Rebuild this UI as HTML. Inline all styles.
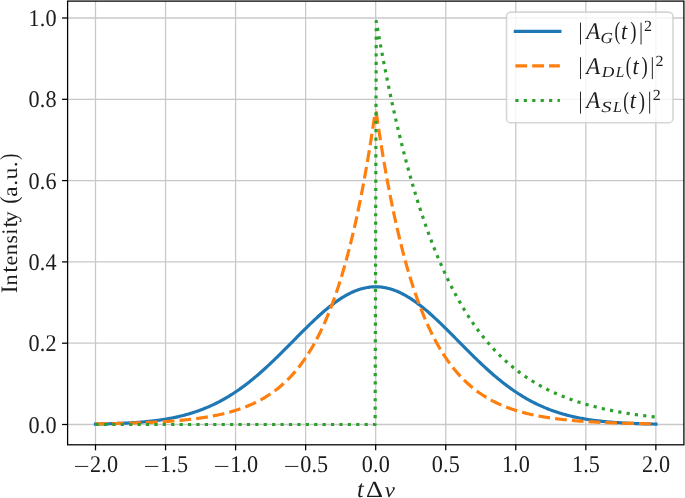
<!DOCTYPE html>
<html><head><meta charset="utf-8"><title>plot</title>
<style>html,body{margin:0;padding:0;background:#fff;overflow:hidden;}svg{display:block;will-change:transform;}text{font-family:"Liberation Serif",serif;fill:#1c1c1c;text-rendering:geometricPrecision;}</style></head><body>
<svg width="685" height="498" viewBox="0 0 685 498">
<rect x="0" y="0" width="685" height="498" fill="#ffffff"/>
<g stroke="#c8c8c8" stroke-width="1.27" fill="none">
<line x1="95.50" y1="1.1" x2="95.50" y2="444.8"/>
<line x1="165.55" y1="1.1" x2="165.55" y2="444.8"/>
<line x1="235.59" y1="1.1" x2="235.59" y2="444.8"/>
<line x1="305.63" y1="1.1" x2="305.63" y2="444.8"/>
<line x1="375.68" y1="1.1" x2="375.68" y2="444.8"/>
<line x1="445.73" y1="1.1" x2="445.73" y2="444.8"/>
<line x1="515.77" y1="1.1" x2="515.77" y2="444.8"/>
<line x1="585.82" y1="1.1" x2="585.82" y2="444.8"/>
<line x1="655.86" y1="1.1" x2="655.86" y2="444.8"/>
<line x1="67.6" y1="424.50" x2="683.9" y2="424.50"/>
<line x1="67.6" y1="343.20" x2="683.9" y2="343.20"/>
<line x1="67.6" y1="261.90" x2="683.9" y2="261.90"/>
<line x1="67.6" y1="180.60" x2="683.9" y2="180.60"/>
<line x1="67.6" y1="99.30" x2="683.9" y2="99.30"/>
<line x1="67.6" y1="18.00" x2="683.9" y2="18.00"/>
</g>
<g fill="none" stroke-width="3.18">
<path d="M95.50,424.07 L96.62,424.05 L97.75,424.03 L98.87,424.01 L99.99,423.98 L101.11,423.96 L102.24,423.94 L103.36,423.91 L104.48,423.88 L105.61,423.85 L106.73,423.82 L107.85,423.79 L108.98,423.76 L110.10,423.73 L111.22,423.69 L112.34,423.66 L113.47,423.62 L114.59,423.58 L115.71,423.54 L116.84,423.50 L117.96,423.46 L119.08,423.41 L120.21,423.36 L121.33,423.32 L122.45,423.26 L123.57,423.21 L124.70,423.16 L125.82,423.10 L126.94,423.04 L128.07,422.98 L129.19,422.92 L130.31,422.85 L131.43,422.78 L132.56,422.71 L133.68,422.64 L134.80,422.57 L135.93,422.49 L137.05,422.41 L138.17,422.32 L139.30,422.24 L140.42,422.15 L141.54,422.05 L142.66,421.96 L143.79,421.86 L144.91,421.75 L146.03,421.65 L147.16,421.54 L148.28,421.42 L149.40,421.31 L150.53,421.18 L151.65,421.06 L152.77,420.93 L153.89,420.80 L155.02,420.66 L156.14,420.52 L157.26,420.37 L158.39,420.22 L159.51,420.06 L160.63,419.90 L161.75,419.74 L162.88,419.57 L164.00,419.39 L165.12,419.21 L166.25,419.02 L167.37,418.83 L168.49,418.63 L169.62,418.43 L170.74,418.22 L171.86,418.00 L172.98,417.78 L174.11,417.55 L175.23,417.32 L176.35,417.08 L177.48,416.83 L178.60,416.58 L179.72,416.31 L180.85,416.05 L181.97,415.77 L183.09,415.49 L184.21,415.20 L185.34,414.90 L186.46,414.59 L187.58,414.28 L188.71,413.96 L189.83,413.63 L190.95,413.29 L192.08,412.95 L193.20,412.59 L194.32,412.23 L195.44,411.86 L196.57,411.48 L197.69,411.09 L198.81,410.69 L199.94,410.28 L201.06,409.86 L202.18,409.43 L203.30,409.00 L204.43,408.55 L205.55,408.10 L206.67,407.63 L207.80,407.15 L208.92,406.67 L210.04,406.17 L211.17,405.67 L212.29,405.15 L213.41,404.62 L214.53,404.08 L215.66,403.54 L216.78,402.98 L217.90,402.41 L219.03,401.83 L220.15,401.23 L221.27,400.63 L222.40,400.02 L223.52,399.39 L224.64,398.76 L225.76,398.11 L226.89,397.45 L228.01,396.78 L229.13,396.10 L230.26,395.40 L231.38,394.70 L232.50,393.98 L233.62,393.26 L234.75,392.52 L235.87,391.77 L236.99,391.01 L238.12,390.24 L239.24,389.45 L240.36,388.66 L241.49,387.85 L242.61,387.03 L243.73,386.20 L244.85,385.36 L245.98,384.51 L247.10,383.65 L248.22,382.78 L249.35,381.90 L250.47,381.00 L251.59,380.10 L252.72,379.18 L253.84,378.26 L254.96,377.32 L256.08,376.38 L257.21,375.42 L258.33,374.46 L259.45,373.48 L260.58,372.50 L261.70,371.51 L262.82,370.50 L263.94,369.49 L265.07,368.47 L266.19,367.45 L267.31,366.41 L268.44,365.37 L269.56,364.32 L270.68,363.26 L271.81,362.19 L272.93,361.12 L274.05,360.04 L275.17,358.96 L276.30,357.87 L277.42,356.77 L278.54,355.67 L279.67,354.57 L280.79,353.45 L281.91,352.34 L283.04,351.22 L284.16,350.10 L285.28,348.97 L286.40,347.84 L287.53,346.71 L288.65,345.58 L289.77,344.44 L290.90,343.31 L292.02,342.17 L293.14,341.03 L294.26,339.90 L295.39,338.76 L296.51,337.62 L297.63,336.49 L298.76,335.36 L299.88,334.22 L301.00,333.10 L302.13,331.97 L303.25,330.85 L304.37,329.73 L305.49,328.62 L306.62,327.51 L307.74,326.41 L308.86,325.31 L309.99,324.22 L311.11,323.13 L312.23,322.06 L313.36,320.99 L314.48,319.93 L315.60,318.87 L316.72,317.83 L317.85,316.80 L318.97,315.77 L320.09,314.76 L321.22,313.76 L322.34,312.77 L323.46,311.79 L324.59,310.83 L325.71,309.88 L326.83,308.94 L327.95,308.01 L329.08,307.10 L330.20,306.20 L331.32,305.32 L332.45,304.46 L333.57,303.61 L334.69,302.78 L335.81,301.96 L336.94,301.17 L338.06,300.39 L339.18,299.62 L340.31,298.88 L341.43,298.16 L342.55,297.45 L343.68,296.77 L344.80,296.10 L345.92,295.46 L347.04,294.83 L348.17,294.23 L349.29,293.65 L350.41,293.09 L351.54,292.55 L352.66,292.04 L353.78,291.55 L354.91,291.08 L356.03,290.63 L357.15,290.21 L358.27,289.81 L359.40,289.44 L360.52,289.09 L361.64,288.76 L362.77,288.46 L363.89,288.18 L365.01,287.93 L366.13,287.70 L367.26,287.49 L368.38,287.32 L369.50,287.16 L370.63,287.04 L371.75,286.93 L372.87,286.86 L374.00,286.81 L375.12,286.78 L376.24,286.78 L377.36,286.81 L378.49,286.86 L379.61,286.93 L380.73,287.04 L381.86,287.16 L382.98,287.32 L384.10,287.49 L385.23,287.70 L386.35,287.93 L387.47,288.18 L388.59,288.46 L389.72,288.76 L390.84,289.09 L391.96,289.44 L393.09,289.81 L394.21,290.21 L395.33,290.63 L396.45,291.08 L397.58,291.55 L398.70,292.04 L399.82,292.55 L400.95,293.09 L402.07,293.65 L403.19,294.23 L404.32,294.83 L405.44,295.46 L406.56,296.10 L407.68,296.77 L408.81,297.45 L409.93,298.16 L411.05,298.88 L412.18,299.62 L413.30,300.39 L414.42,301.17 L415.55,301.96 L416.67,302.78 L417.79,303.61 L418.91,304.46 L420.04,305.32 L421.16,306.20 L422.28,307.10 L423.41,308.01 L424.53,308.94 L425.65,309.88 L426.77,310.83 L427.90,311.79 L429.02,312.77 L430.14,313.76 L431.27,314.76 L432.39,315.77 L433.51,316.80 L434.64,317.83 L435.76,318.87 L436.88,319.93 L438.00,320.99 L439.13,322.06 L440.25,323.13 L441.37,324.22 L442.50,325.31 L443.62,326.41 L444.74,327.51 L445.87,328.62 L446.99,329.73 L448.11,330.85 L449.23,331.97 L450.36,333.10 L451.48,334.22 L452.60,335.36 L453.73,336.49 L454.85,337.62 L455.97,338.76 L457.10,339.90 L458.22,341.03 L459.34,342.17 L460.46,343.31 L461.59,344.44 L462.71,345.58 L463.83,346.71 L464.96,347.84 L466.08,348.97 L467.20,350.10 L468.32,351.22 L469.45,352.34 L470.57,353.45 L471.69,354.57 L472.82,355.67 L473.94,356.77 L475.06,357.87 L476.19,358.96 L477.31,360.04 L478.43,361.12 L479.55,362.19 L480.68,363.26 L481.80,364.32 L482.92,365.37 L484.05,366.41 L485.17,367.45 L486.29,368.47 L487.42,369.49 L488.54,370.50 L489.66,371.51 L490.78,372.50 L491.91,373.48 L493.03,374.46 L494.15,375.42 L495.28,376.38 L496.40,377.32 L497.52,378.26 L498.64,379.18 L499.77,380.10 L500.89,381.00 L502.01,381.90 L503.14,382.78 L504.26,383.65 L505.38,384.51 L506.51,385.36 L507.63,386.20 L508.75,387.03 L509.87,387.85 L511.00,388.66 L512.12,389.45 L513.24,390.24 L514.37,391.01 L515.49,391.77 L516.61,392.52 L517.74,393.26 L518.86,393.98 L519.98,394.70 L521.10,395.40 L522.23,396.10 L523.35,396.78 L524.47,397.45 L525.60,398.11 L526.72,398.76 L527.84,399.39 L528.96,400.02 L530.09,400.63 L531.21,401.23 L532.33,401.83 L533.46,402.41 L534.58,402.98 L535.70,403.54 L536.83,404.08 L537.95,404.62 L539.07,405.15 L540.19,405.67 L541.32,406.17 L542.44,406.67 L543.56,407.15 L544.69,407.63 L545.81,408.10 L546.93,408.55 L548.06,409.00 L549.18,409.43 L550.30,409.86 L551.42,410.28 L552.55,410.69 L553.67,411.09 L554.79,411.48 L555.92,411.86 L557.04,412.23 L558.16,412.59 L559.28,412.95 L560.41,413.29 L561.53,413.63 L562.65,413.96 L563.78,414.28 L564.90,414.59 L566.02,414.90 L567.15,415.20 L568.27,415.49 L569.39,415.77 L570.51,416.05 L571.64,416.31 L572.76,416.58 L573.88,416.83 L575.01,417.08 L576.13,417.32 L577.25,417.55 L578.38,417.78 L579.50,418.00 L580.62,418.22 L581.74,418.43 L582.87,418.63 L583.99,418.83 L585.11,419.02 L586.24,419.21 L587.36,419.39 L588.48,419.57 L589.61,419.74 L590.73,419.90 L591.85,420.06 L592.97,420.22 L594.10,420.37 L595.22,420.52 L596.34,420.66 L597.47,420.80 L598.59,420.93 L599.71,421.06 L600.83,421.18 L601.96,421.31 L603.08,421.42 L604.20,421.54 L605.33,421.65 L606.45,421.75 L607.57,421.86 L608.70,421.96 L609.82,422.05 L610.94,422.15 L612.06,422.24 L613.19,422.32 L614.31,422.41 L615.43,422.49 L616.56,422.57 L617.68,422.64 L618.80,422.71 L619.93,422.78 L621.05,422.85 L622.17,422.92 L623.29,422.98 L624.42,423.04 L625.54,423.10 L626.66,423.16 L627.79,423.21 L628.91,423.26 L630.03,423.32 L631.15,423.36 L632.28,423.41 L633.40,423.46 L634.52,423.50 L635.65,423.54 L636.77,423.58 L637.89,423.62 L639.02,423.66 L640.14,423.69 L641.26,423.73 L642.38,423.76 L643.51,423.79 L644.63,423.82 L645.75,423.85 L646.88,423.88 L648.00,423.91 L649.12,423.94 L650.25,423.96 L651.37,423.98 L652.49,424.01 L653.61,424.03 L654.74,424.05 L655.86,424.07" stroke="#1f77b4" stroke-linecap="square" stroke-linejoin="round"/>
<path d="M95.50,423.87 L96.62,423.85 L97.75,423.84 L98.87,423.82 L99.99,423.80 L101.11,423.78 L102.24,423.77 L103.36,423.75 L104.48,423.73 L105.61,423.71 L106.73,423.69 L107.85,423.67 L108.98,423.65 L110.10,423.63 L111.22,423.61 L112.34,423.58 L113.47,423.56 L114.59,423.54 L115.71,423.51 L116.84,423.49 L117.96,423.46 L119.08,423.43 L120.21,423.41 L121.33,423.38 L122.45,423.35 L123.57,423.32 L124.70,423.29 L125.82,423.26 L126.94,423.23 L128.07,423.20 L129.19,423.17 L130.31,423.13 L131.43,423.10 L132.56,423.06 L133.68,423.03 L134.80,422.99 L135.93,422.95 L137.05,422.91 L138.17,422.87 L139.30,422.83 L140.42,422.79 L141.54,422.75 L142.66,422.70 L143.79,422.66 L144.91,422.61 L146.03,422.56 L147.16,422.51 L148.28,422.46 L149.40,422.41 L150.53,422.36 L151.65,422.31 L152.77,422.25 L153.89,422.19 L155.02,422.14 L156.14,422.08 L157.26,422.02 L158.39,421.95 L159.51,421.89 L160.63,421.82 L161.75,421.75 L162.88,421.69 L164.00,421.61 L165.12,421.54 L166.25,421.47 L167.37,421.39 L168.49,421.31 L169.62,421.23 L170.74,421.15 L171.86,421.07 L172.98,420.98 L174.11,420.89 L175.23,420.80 L176.35,420.71 L177.48,420.61 L178.60,420.51 L179.72,420.41 L180.85,420.31 L181.97,420.20 L183.09,420.09 L184.21,419.98 L185.34,419.87 L186.46,419.75 L187.58,419.63 L188.71,419.51 L189.83,419.38 L190.95,419.25 L192.08,419.12 L193.20,418.99 L194.32,418.85 L195.44,418.70 L196.57,418.56 L197.69,418.41 L198.81,418.25 L199.94,418.10 L201.06,417.94 L202.18,417.77 L203.30,417.60 L204.43,417.43 L205.55,417.25 L206.67,417.06 L207.80,416.88 L208.92,416.69 L210.04,416.49 L211.17,416.29 L212.29,416.08 L213.41,415.87 L214.53,415.65 L215.66,415.43 L216.78,415.20 L217.90,414.96 L219.03,414.72 L220.15,414.47 L221.27,414.22 L222.40,413.96 L223.52,413.70 L224.64,413.42 L225.76,413.14 L226.89,412.86 L228.01,412.56 L229.13,412.26 L230.26,411.96 L231.38,411.64 L232.50,411.31 L233.62,410.98 L234.75,410.64 L235.87,410.29 L236.99,409.93 L238.12,409.57 L239.24,409.19 L240.36,408.80 L241.49,408.41 L242.61,408.00 L243.73,407.58 L244.85,407.16 L245.98,406.72 L247.10,406.27 L248.22,405.81 L249.35,405.34 L250.47,404.86 L251.59,404.36 L252.72,403.85 L253.84,403.33 L254.96,402.80 L256.08,402.25 L257.21,401.69 L258.33,401.12 L259.45,400.53 L260.58,399.92 L261.70,399.30 L262.82,398.67 L263.94,398.01 L265.07,397.35 L266.19,396.66 L267.31,395.96 L268.44,395.24 L269.56,394.50 L270.68,393.74 L271.81,392.97 L272.93,392.17 L274.05,391.36 L275.17,390.52 L276.30,389.67 L277.42,388.79 L278.54,387.89 L279.67,386.96 L280.79,386.02 L281.91,385.04 L283.04,384.05 L284.16,383.03 L285.28,381.98 L286.40,380.91 L287.53,379.81 L288.65,378.68 L289.77,377.53 L290.90,376.34 L292.02,375.13 L293.14,373.88 L294.26,372.61 L295.39,371.30 L296.51,369.96 L297.63,368.58 L298.76,367.17 L299.88,365.72 L301.00,364.24 L302.13,362.72 L303.25,361.16 L304.37,359.57 L305.49,357.93 L306.62,356.25 L307.74,354.53 L308.86,352.76 L309.99,350.95 L311.11,349.10 L312.23,347.20 L313.36,345.25 L314.48,343.25 L315.60,341.20 L316.72,339.10 L317.85,336.94 L318.97,334.74 L320.09,332.47 L321.22,330.15 L322.34,327.77 L323.46,325.33 L324.59,322.83 L325.71,320.26 L326.83,317.64 L327.95,314.94 L329.08,312.18 L330.20,309.34 L331.32,306.44 L332.45,303.46 L333.57,300.41 L334.69,297.28 L335.81,294.07 L336.94,290.78 L338.06,287.41 L339.18,283.95 L340.31,280.40 L341.43,276.77 L342.55,273.04 L343.68,269.22 L344.80,265.31 L345.92,261.29 L347.04,257.17 L348.17,252.95 L349.29,248.63 L350.41,244.19 L351.54,239.64 L352.66,234.98 L353.78,230.20 L354.91,225.30 L356.03,220.28 L357.15,215.12 L358.27,209.84 L359.40,204.43 L360.52,198.88 L361.64,193.19 L362.77,187.35 L363.89,181.37 L365.01,175.24 L366.13,168.95 L367.26,162.51 L368.38,155.90 L369.50,149.12 L370.63,142.18 L371.75,135.06 L372.87,127.76 L374.00,120.27 L375.12,112.60 L376.24,112.60 L377.36,120.27 L378.49,127.76 L379.61,135.06 L380.73,142.18 L381.86,149.12 L382.98,155.90 L384.10,162.51 L385.23,168.95 L386.35,175.24 L387.47,181.37 L388.59,187.35 L389.72,193.19 L390.84,198.88 L391.96,204.43 L393.09,209.84 L394.21,215.12 L395.33,220.28 L396.45,225.30 L397.58,230.20 L398.70,234.98 L399.82,239.64 L400.95,244.19 L402.07,248.63 L403.19,252.95 L404.32,257.17 L405.44,261.29 L406.56,265.31 L407.68,269.22 L408.81,273.04 L409.93,276.77 L411.05,280.40 L412.18,283.95 L413.30,287.41 L414.42,290.78 L415.55,294.07 L416.67,297.28 L417.79,300.41 L418.91,303.46 L420.04,306.44 L421.16,309.34 L422.28,312.18 L423.41,314.94 L424.53,317.64 L425.65,320.26 L426.77,322.83 L427.90,325.33 L429.02,327.77 L430.14,330.15 L431.27,332.47 L432.39,334.74 L433.51,336.94 L434.64,339.10 L435.76,341.20 L436.88,343.25 L438.00,345.25 L439.13,347.20 L440.25,349.10 L441.37,350.95 L442.50,352.76 L443.62,354.53 L444.74,356.25 L445.87,357.93 L446.99,359.57 L448.11,361.16 L449.23,362.72 L450.36,364.24 L451.48,365.72 L452.60,367.17 L453.73,368.58 L454.85,369.96 L455.97,371.30 L457.10,372.61 L458.22,373.88 L459.34,375.13 L460.46,376.34 L461.59,377.53 L462.71,378.68 L463.83,379.81 L464.96,380.91 L466.08,381.98 L467.20,383.03 L468.32,384.05 L469.45,385.04 L470.57,386.02 L471.69,386.96 L472.82,387.89 L473.94,388.79 L475.06,389.67 L476.19,390.52 L477.31,391.36 L478.43,392.17 L479.55,392.97 L480.68,393.74 L481.80,394.50 L482.92,395.24 L484.05,395.96 L485.17,396.66 L486.29,397.35 L487.42,398.01 L488.54,398.67 L489.66,399.30 L490.78,399.92 L491.91,400.53 L493.03,401.12 L494.15,401.69 L495.28,402.25 L496.40,402.80 L497.52,403.33 L498.64,403.85 L499.77,404.36 L500.89,404.86 L502.01,405.34 L503.14,405.81 L504.26,406.27 L505.38,406.72 L506.51,407.16 L507.63,407.58 L508.75,408.00 L509.87,408.41 L511.00,408.80 L512.12,409.19 L513.24,409.57 L514.37,409.93 L515.49,410.29 L516.61,410.64 L517.74,410.98 L518.86,411.31 L519.98,411.64 L521.10,411.96 L522.23,412.26 L523.35,412.56 L524.47,412.86 L525.60,413.14 L526.72,413.42 L527.84,413.70 L528.96,413.96 L530.09,414.22 L531.21,414.47 L532.33,414.72 L533.46,414.96 L534.58,415.20 L535.70,415.43 L536.83,415.65 L537.95,415.87 L539.07,416.08 L540.19,416.29 L541.32,416.49 L542.44,416.69 L543.56,416.88 L544.69,417.06 L545.81,417.25 L546.93,417.43 L548.06,417.60 L549.18,417.77 L550.30,417.94 L551.42,418.10 L552.55,418.25 L553.67,418.41 L554.79,418.56 L555.92,418.70 L557.04,418.85 L558.16,418.99 L559.28,419.12 L560.41,419.25 L561.53,419.38 L562.65,419.51 L563.78,419.63 L564.90,419.75 L566.02,419.87 L567.15,419.98 L568.27,420.09 L569.39,420.20 L570.51,420.31 L571.64,420.41 L572.76,420.51 L573.88,420.61 L575.01,420.71 L576.13,420.80 L577.25,420.89 L578.38,420.98 L579.50,421.07 L580.62,421.15 L581.74,421.23 L582.87,421.31 L583.99,421.39 L585.11,421.47 L586.24,421.54 L587.36,421.61 L588.48,421.69 L589.61,421.75 L590.73,421.82 L591.85,421.89 L592.97,421.95 L594.10,422.02 L595.22,422.08 L596.34,422.14 L597.47,422.19 L598.59,422.25 L599.71,422.31 L600.83,422.36 L601.96,422.41 L603.08,422.46 L604.20,422.51 L605.33,422.56 L606.45,422.61 L607.57,422.66 L608.70,422.70 L609.82,422.75 L610.94,422.79 L612.06,422.83 L613.19,422.87 L614.31,422.91 L615.43,422.95 L616.56,422.99 L617.68,423.03 L618.80,423.06 L619.93,423.10 L621.05,423.13 L622.17,423.17 L623.29,423.20 L624.42,423.23 L625.54,423.26 L626.66,423.29 L627.79,423.32 L628.91,423.35 L630.03,423.38 L631.15,423.41 L632.28,423.43 L633.40,423.46 L634.52,423.49 L635.65,423.51 L636.77,423.54 L637.89,423.56 L639.02,423.58 L640.14,423.61 L641.26,423.63 L642.38,423.65 L643.51,423.67 L644.63,423.69 L645.75,423.71 L646.88,423.73 L648.00,423.75 L649.12,423.77 L650.25,423.78 L651.37,423.80 L652.49,423.82 L653.61,423.84 L654.74,423.85 L655.86,423.87" stroke="#ff7f0e" stroke-linecap="butt" stroke-linejoin="round" stroke-dasharray="11.742 5.078"/>
<path d="M95.50,424.50 L96.62,424.50 L97.75,424.50 L98.87,424.50 L99.99,424.50 L101.11,424.50 L102.24,424.50 L103.36,424.50 L104.48,424.50 L105.61,424.50 L106.73,424.50 L107.85,424.50 L108.98,424.50 L110.10,424.50 L111.22,424.50 L112.34,424.50 L113.47,424.50 L114.59,424.50 L115.71,424.50 L116.84,424.50 L117.96,424.50 L119.08,424.50 L120.21,424.50 L121.33,424.50 L122.45,424.50 L123.57,424.50 L124.70,424.50 L125.82,424.50 L126.94,424.50 L128.07,424.50 L129.19,424.50 L130.31,424.50 L131.43,424.50 L132.56,424.50 L133.68,424.50 L134.80,424.50 L135.93,424.50 L137.05,424.50 L138.17,424.50 L139.30,424.50 L140.42,424.50 L141.54,424.50 L142.66,424.50 L143.79,424.50 L144.91,424.50 L146.03,424.50 L147.16,424.50 L148.28,424.50 L149.40,424.50 L150.53,424.50 L151.65,424.50 L152.77,424.50 L153.89,424.50 L155.02,424.50 L156.14,424.50 L157.26,424.50 L158.39,424.50 L159.51,424.50 L160.63,424.50 L161.75,424.50 L162.88,424.50 L164.00,424.50 L165.12,424.50 L166.25,424.50 L167.37,424.50 L168.49,424.50 L169.62,424.50 L170.74,424.50 L171.86,424.50 L172.98,424.50 L174.11,424.50 L175.23,424.50 L176.35,424.50 L177.48,424.50 L178.60,424.50 L179.72,424.50 L180.85,424.50 L181.97,424.50 L183.09,424.50 L184.21,424.50 L185.34,424.50 L186.46,424.50 L187.58,424.50 L188.71,424.50 L189.83,424.50 L190.95,424.50 L192.08,424.50 L193.20,424.50 L194.32,424.50 L195.44,424.50 L196.57,424.50 L197.69,424.50 L198.81,424.50 L199.94,424.50 L201.06,424.50 L202.18,424.50 L203.30,424.50 L204.43,424.50 L205.55,424.50 L206.67,424.50 L207.80,424.50 L208.92,424.50 L210.04,424.50 L211.17,424.50 L212.29,424.50 L213.41,424.50 L214.53,424.50 L215.66,424.50 L216.78,424.50 L217.90,424.50 L219.03,424.50 L220.15,424.50 L221.27,424.50 L222.40,424.50 L223.52,424.50 L224.64,424.50 L225.76,424.50 L226.89,424.50 L228.01,424.50 L229.13,424.50 L230.26,424.50 L231.38,424.50 L232.50,424.50 L233.62,424.50 L234.75,424.50 L235.87,424.50 L236.99,424.50 L238.12,424.50 L239.24,424.50 L240.36,424.50 L241.49,424.50 L242.61,424.50 L243.73,424.50 L244.85,424.50 L245.98,424.50 L247.10,424.50 L248.22,424.50 L249.35,424.50 L250.47,424.50 L251.59,424.50 L252.72,424.50 L253.84,424.50 L254.96,424.50 L256.08,424.50 L257.21,424.50 L258.33,424.50 L259.45,424.50 L260.58,424.50 L261.70,424.50 L262.82,424.50 L263.94,424.50 L265.07,424.50 L266.19,424.50 L267.31,424.50 L268.44,424.50 L269.56,424.50 L270.68,424.50 L271.81,424.50 L272.93,424.50 L274.05,424.50 L275.17,424.50 L276.30,424.50 L277.42,424.50 L278.54,424.50 L279.67,424.50 L280.79,424.50 L281.91,424.50 L283.04,424.50 L284.16,424.50 L285.28,424.50 L286.40,424.50 L287.53,424.50 L288.65,424.50 L289.77,424.50 L290.90,424.50 L292.02,424.50 L293.14,424.50 L294.26,424.50 L295.39,424.50 L296.51,424.50 L297.63,424.50 L298.76,424.50 L299.88,424.50 L301.00,424.50 L302.13,424.50 L303.25,424.50 L304.37,424.50 L305.49,424.50 L306.62,424.50 L307.74,424.50 L308.86,424.50 L309.99,424.50 L311.11,424.50 L312.23,424.50 L313.36,424.50 L314.48,424.50 L315.60,424.50 L316.72,424.50 L317.85,424.50 L318.97,424.50 L320.09,424.50 L321.22,424.50 L322.34,424.50 L323.46,424.50 L324.59,424.50 L325.71,424.50 L326.83,424.50 L327.95,424.50 L329.08,424.50 L330.20,424.50 L331.32,424.50 L332.45,424.50 L333.57,424.50 L334.69,424.50 L335.81,424.50 L336.94,424.50 L338.06,424.50 L339.18,424.50 L340.31,424.50 L341.43,424.50 L342.55,424.50 L343.68,424.50 L344.80,424.50 L345.92,424.50 L347.04,424.50 L348.17,424.50 L349.29,424.50 L350.41,424.50 L351.54,424.50 L352.66,424.50 L353.78,424.50 L354.91,424.50 L356.03,424.50 L357.15,424.50 L358.27,424.50 L359.40,424.50 L360.52,424.50 L361.64,424.50 L362.77,424.50 L363.89,424.50 L365.01,424.50 L366.13,424.50 L367.26,424.50 L368.38,424.50 L369.50,424.50 L370.63,424.50 L371.75,424.50 L372.87,424.50 L374.00,424.50 L375.12,424.50 L376.24,21.25 L377.36,27.66 L378.49,33.97 L379.61,40.18 L380.73,46.29 L381.86,52.31 L382.98,58.23 L384.10,64.05 L385.23,69.79 L386.35,75.43 L387.47,80.98 L388.59,86.44 L389.72,91.82 L390.84,97.11 L391.96,102.32 L393.09,107.44 L394.21,112.48 L395.33,117.45 L396.45,122.33 L397.58,127.14 L398.70,131.86 L399.82,136.52 L400.95,141.10 L402.07,145.61 L403.19,150.04 L404.32,154.41 L405.44,158.70 L406.56,162.93 L407.68,167.09 L408.81,171.18 L409.93,175.21 L411.05,179.18 L412.18,183.08 L413.30,186.92 L414.42,190.70 L415.55,194.42 L416.67,198.08 L417.79,201.68 L418.91,205.22 L420.04,208.71 L421.16,212.14 L422.28,215.52 L423.41,218.84 L424.53,222.11 L425.65,225.33 L426.77,228.50 L427.90,231.62 L429.02,234.68 L430.14,237.70 L431.27,240.67 L432.39,243.60 L433.51,246.47 L434.64,249.30 L435.76,252.09 L436.88,254.83 L438.00,257.53 L439.13,260.19 L440.25,262.80 L441.37,265.37 L442.50,267.90 L443.62,270.39 L444.74,272.84 L445.87,275.26 L446.99,277.63 L448.11,279.97 L449.23,282.26 L450.36,284.53 L451.48,286.75 L452.60,288.94 L453.73,291.10 L454.85,293.22 L455.97,295.31 L457.10,297.36 L458.22,299.39 L459.34,301.38 L460.46,303.33 L461.59,305.26 L462.71,307.16 L463.83,309.02 L464.96,310.86 L466.08,312.67 L467.20,314.45 L468.32,316.20 L469.45,317.92 L470.57,319.61 L471.69,321.28 L472.82,322.92 L473.94,324.54 L475.06,326.13 L476.19,327.69 L477.31,329.23 L478.43,330.75 L479.55,332.24 L480.68,333.71 L481.80,335.15 L482.92,336.57 L484.05,337.97 L485.17,339.35 L486.29,340.70 L487.42,342.03 L488.54,343.34 L489.66,344.64 L490.78,345.91 L491.91,347.16 L493.03,348.39 L494.15,349.60 L495.28,350.79 L496.40,351.96 L497.52,353.11 L498.64,354.25 L499.77,355.37 L500.89,356.47 L502.01,357.55 L503.14,358.61 L504.26,359.66 L505.38,360.69 L506.51,361.71 L507.63,362.71 L508.75,363.69 L509.87,364.66 L511.00,365.61 L512.12,366.54 L513.24,367.47 L514.37,368.37 L515.49,369.27 L516.61,370.14 L517.74,371.01 L518.86,371.86 L519.98,372.70 L521.10,373.52 L522.23,374.33 L523.35,375.13 L524.47,375.91 L525.60,376.69 L526.72,377.45 L527.84,378.20 L528.96,378.93 L530.09,379.66 L531.21,380.37 L532.33,381.07 L533.46,381.76 L534.58,382.44 L535.70,383.11 L536.83,383.77 L537.95,384.42 L539.07,385.05 L540.19,385.68 L541.32,386.30 L542.44,386.91 L543.56,387.50 L544.69,388.09 L545.81,388.67 L546.93,389.24 L548.06,389.80 L549.18,390.35 L550.30,390.90 L551.42,391.43 L552.55,391.96 L553.67,392.48 L554.79,392.98 L555.92,393.49 L557.04,393.98 L558.16,394.46 L559.28,394.94 L560.41,395.41 L561.53,395.88 L562.65,396.33 L563.78,396.78 L564.90,397.22 L566.02,397.65 L567.15,398.08 L568.27,398.50 L569.39,398.91 L570.51,399.32 L571.64,399.72 L572.76,400.12 L573.88,400.50 L575.01,400.88 L576.13,401.26 L577.25,401.63 L578.38,401.99 L579.50,402.35 L580.62,402.70 L581.74,403.05 L582.87,403.39 L583.99,403.73 L585.11,404.06 L586.24,404.38 L587.36,404.70 L588.48,405.02 L589.61,405.33 L590.73,405.63 L591.85,405.93 L592.97,406.23 L594.10,406.52 L595.22,406.80 L596.34,407.09 L597.47,407.36 L598.59,407.64 L599.71,407.90 L600.83,408.17 L601.96,408.43 L603.08,408.68 L604.20,408.93 L605.33,409.18 L606.45,409.43 L607.57,409.67 L608.70,409.90 L609.82,410.13 L610.94,410.36 L612.06,410.59 L613.19,410.81 L614.31,411.03 L615.43,411.24 L616.56,411.45 L617.68,411.66 L618.80,411.86 L619.93,412.06 L621.05,412.26 L622.17,412.46 L623.29,412.65 L624.42,412.84 L625.54,413.02 L626.66,413.20 L627.79,413.38 L628.91,413.56 L630.03,413.73 L631.15,413.91 L632.28,414.07 L633.40,414.24 L634.52,414.40 L635.65,414.56 L636.77,414.72 L637.89,414.88 L639.02,415.03 L640.14,415.18 L641.26,415.33 L642.38,415.48 L643.51,415.62 L644.63,415.76 L645.75,415.90 L646.88,416.04 L648.00,416.17 L649.12,416.30 L650.25,416.43 L651.37,416.56 L652.49,416.69 L653.61,416.81 L654.74,416.93 L655.86,417.05" stroke="#2ca02c" stroke-linecap="butt" stroke-linejoin="round" stroke-dasharray="3.174 5.236"/>
</g>
<g stroke="#000" stroke-width="1.27" fill="none">
<line x1="95.50" y1="444.8" x2="95.50" y2="450.35"/>
<line x1="165.55" y1="444.8" x2="165.55" y2="450.35"/>
<line x1="235.59" y1="444.8" x2="235.59" y2="450.35"/>
<line x1="305.63" y1="444.8" x2="305.63" y2="450.35"/>
<line x1="375.68" y1="444.8" x2="375.68" y2="450.35"/>
<line x1="445.73" y1="444.8" x2="445.73" y2="450.35"/>
<line x1="515.77" y1="444.8" x2="515.77" y2="450.35"/>
<line x1="585.82" y1="444.8" x2="585.82" y2="450.35"/>
<line x1="655.86" y1="444.8" x2="655.86" y2="450.35"/>
<line x1="62.05" y1="424.50" x2="67.6" y2="424.50"/>
<line x1="62.05" y1="343.20" x2="67.6" y2="343.20"/>
<line x1="62.05" y1="261.90" x2="67.6" y2="261.90"/>
<line x1="62.05" y1="180.60" x2="67.6" y2="180.60"/>
<line x1="62.05" y1="99.30" x2="67.6" y2="99.30"/>
<line x1="62.05" y1="18.00" x2="67.6" y2="18.00"/>
</g>
<rect x="67.6" y="1.1" width="616.30" height="443.70" fill="none" stroke="#000" stroke-width="1.27"/>
<line x1="75.00" y1="466.45" x2="88.23" y2="466.45" stroke="#1c1c1c" stroke-width="0.95"/>
<g transform="translate(0,472.00) scale(1,1.08)"><text x="90.07 101.29 106.98" y="0" font-size="22.2">2.0</text></g>
<line x1="145.04" y1="466.45" x2="158.27" y2="466.45" stroke="#1c1c1c" stroke-width="0.95"/>
<g transform="translate(0,472.00) scale(1,1.08)"><text x="160.11 171.34 177.02" y="0" font-size="22.2">1.5</text></g>
<line x1="215.09" y1="466.45" x2="228.32" y2="466.45" stroke="#1c1c1c" stroke-width="0.95"/>
<g transform="translate(0,472.00) scale(1,1.08)"><text x="230.16 241.38 247.07" y="0" font-size="22.2">1.0</text></g>
<line x1="285.13" y1="466.45" x2="298.36" y2="466.45" stroke="#1c1c1c" stroke-width="0.95"/>
<g transform="translate(0,472.00) scale(1,1.08)"><text x="300.20 311.43 317.11" y="0" font-size="22.2">0.5</text></g>
<g transform="translate(0,472.00) scale(1,1.08)"><text x="361.79 373.02 378.70" y="0" font-size="22.2">0.0</text></g>
<g transform="translate(0,472.00) scale(1,1.08)"><text x="431.84 443.06 448.74" y="0" font-size="22.2">0.5</text></g>
<g transform="translate(0,472.00) scale(1,1.08)"><text x="501.88 513.11 518.79" y="0" font-size="22.2">1.0</text></g>
<g transform="translate(0,472.00) scale(1,1.08)"><text x="571.93 583.15 588.83" y="0" font-size="22.2">1.5</text></g>
<g transform="translate(0,472.00) scale(1,1.08)"><text x="641.97 653.20 658.88" y="0" font-size="22.2">2.0</text></g>
<g transform="translate(0,432.60) scale(1,1.08)"><text x="28.52 39.75 45.43" y="0" font-size="22.2">0.0</text></g>
<g transform="translate(0,351.30) scale(1,1.08)"><text x="28.52 39.75 45.43" y="0" font-size="22.2">0.2</text></g>
<g transform="translate(0,270.00) scale(1,1.08)"><text x="28.52 39.75 45.43" y="0" font-size="22.2">0.4</text></g>
<g transform="translate(0,188.70) scale(1,1.08)"><text x="28.52 39.75 45.43" y="0" font-size="22.2">0.6</text></g>
<g transform="translate(0,107.40) scale(1,1.08)"><text x="28.52 39.75 45.43" y="0" font-size="22.2">0.8</text></g>
<g transform="translate(0,26.10) scale(1,1.08)"><text x="28.52 39.75 45.43" y="0" font-size="22.2">1.0</text></g>
<text transform="translate(16.90,292.99) rotate(-90) scale(0.9228,1)" font-size="23.6">I</text>
<text transform="translate(16.90,285.41) rotate(-90) scale(1.0825,1)" font-size="20.6">n</text>
<text transform="translate(16.90,272.84) rotate(-90) scale(1.0170,1)" font-size="24.0">t</text>
<text transform="translate(16.90,265.57) rotate(-90) scale(1.0755,1)" font-size="20.6">e</text>
<text transform="translate(16.90,255.32) rotate(-90) scale(1.0930,1)" font-size="20.6">n</text>
<text transform="translate(16.90,243.58) rotate(-90) scale(1.0424,1)" font-size="20.6">s</text>
<text transform="translate(16.90,234.53) rotate(-90) scale(0.9282,1)" font-size="22.2">i</text>
<text transform="translate(16.90,227.53) rotate(-90) scale(1.0011,1)" font-size="24.0">t</text>
<text transform="translate(16.90,222.47) rotate(-90) scale(1.0835,1)" font-size="20.6">y</text>
<text transform="translate(17.10,203.86) rotate(-90) scale(0.8900,1)" font-size="24.5">(</text>
<text transform="translate(16.90,196.63) rotate(-90) scale(1.1429,1)" font-size="20.6">a</text>
<text transform="translate(16.90,185.66) rotate(-90) scale(1.0674,1)" font-size="22.2">.</text>
<text transform="translate(16.90,179.51) rotate(-90) scale(1.1471,1)" font-size="20.6">u</text>
<text transform="translate(16.90,167.16) rotate(-90) scale(1.0674,1)" font-size="22.2">.</text>
<text transform="translate(17.10,159.69) rotate(-90) scale(0.7469,1)" font-size="24.5">)</text>
<text transform="translate(356.93,496.60) scale(0.9926,1)" font-size="24.6" font-style="italic">t</text>
<text transform="translate(365.89,496.60) scale(1.1494,1)" font-size="23.0">Δ</text>
<text transform="translate(384.69,496.60) scale(1.0848,1)" font-size="21.0" font-style="italic">ν</text>
<rect x="506.5" y="12.1" width="166.50" height="110.70" rx="4.4" ry="4.4" fill="#ffffff" fill-opacity="0.8" stroke="#cccccc" stroke-opacity="0.8" stroke-width="1.59"/>
<g fill="none" stroke-width="3.18">
<line x1="515.35" y1="31.3" x2="559.85" y2="31.3" stroke="#1f77b4" stroke-linecap="square"/>
<line x1="515.35" y1="65.9" x2="559.85" y2="65.9" stroke="#ff7f0e" stroke-dasharray="11.77 5.09"/>
<line x1="515.35" y1="100.5" x2="559.85" y2="100.5" stroke="#2ca02c" stroke-dasharray="3.18 5.25"/>
</g>
<line x1="580.50" y1="22.60" x2="580.50" y2="44.50" stroke="#1c1c1c" stroke-width="0.95"/>
<text transform="translate(586.25,39.10) scale(0.9530,1)" font-size="24.0" font-style="italic">A</text>
<text transform="translate(600.55,42.50) scale(1.1166,1)" font-size="15.4" font-style="italic">G</text>
<text transform="translate(614.55,39.40) scale(0.6908,1)" font-size="24.8">(</text>
<text transform="translate(621.11,39.10) scale(0.9354,1)" font-size="24.0" font-style="italic">t</text>
<text transform="translate(630.20,39.40) scale(0.7536,1)" font-size="24.8">)</text>
<line x1="641.05" y1="22.60" x2="641.05" y2="44.50" stroke="#1c1c1c" stroke-width="0.95"/>
<text transform="translate(644.10,31.00) scale(1.0300,1)" font-size="15.5">2</text>
<line x1="580.50" y1="57.20" x2="580.50" y2="79.10" stroke="#1c1c1c" stroke-width="0.95"/>
<text transform="translate(586.25,73.70) scale(0.9530,1)" font-size="24.0" font-style="italic">A</text>
<text transform="translate(601.70,77.10) scale(1.1301,1)" font-size="15.4" font-style="italic">D</text>
<text transform="translate(615.78,77.10) scale(0.9980,1)" font-size="15.4" font-style="italic">L</text>
<text transform="translate(625.85,74.00) scale(0.6908,1)" font-size="24.8">(</text>
<text transform="translate(632.41,73.70) scale(0.9354,1)" font-size="24.0" font-style="italic">t</text>
<text transform="translate(641.50,74.00) scale(0.7536,1)" font-size="24.8">)</text>
<line x1="652.35" y1="57.20" x2="652.35" y2="79.10" stroke="#1c1c1c" stroke-width="0.95"/>
<text transform="translate(655.40,65.60) scale(1.0300,1)" font-size="15.5">2</text>
<line x1="580.50" y1="91.70" x2="580.50" y2="113.60" stroke="#1c1c1c" stroke-width="0.95"/>
<text transform="translate(586.25,108.20) scale(0.9530,1)" font-size="24.0" font-style="italic">A</text>
<text transform="translate(601.26,111.60) scale(1.3340,1)" font-size="15.4" font-style="italic">S</text>
<text transform="translate(612.99,111.60) scale(1.0479,1)" font-size="15.4" font-style="italic">L</text>
<text transform="translate(623.15,108.50) scale(0.6908,1)" font-size="24.8">(</text>
<text transform="translate(629.71,108.20) scale(0.9354,1)" font-size="24.0" font-style="italic">t</text>
<text transform="translate(638.80,108.50) scale(0.7536,1)" font-size="24.8">)</text>
<line x1="649.65" y1="91.70" x2="649.65" y2="113.60" stroke="#1c1c1c" stroke-width="0.95"/>
<text transform="translate(652.70,100.10) scale(1.0300,1)" font-size="15.5">2</text>
</svg></body></html>
